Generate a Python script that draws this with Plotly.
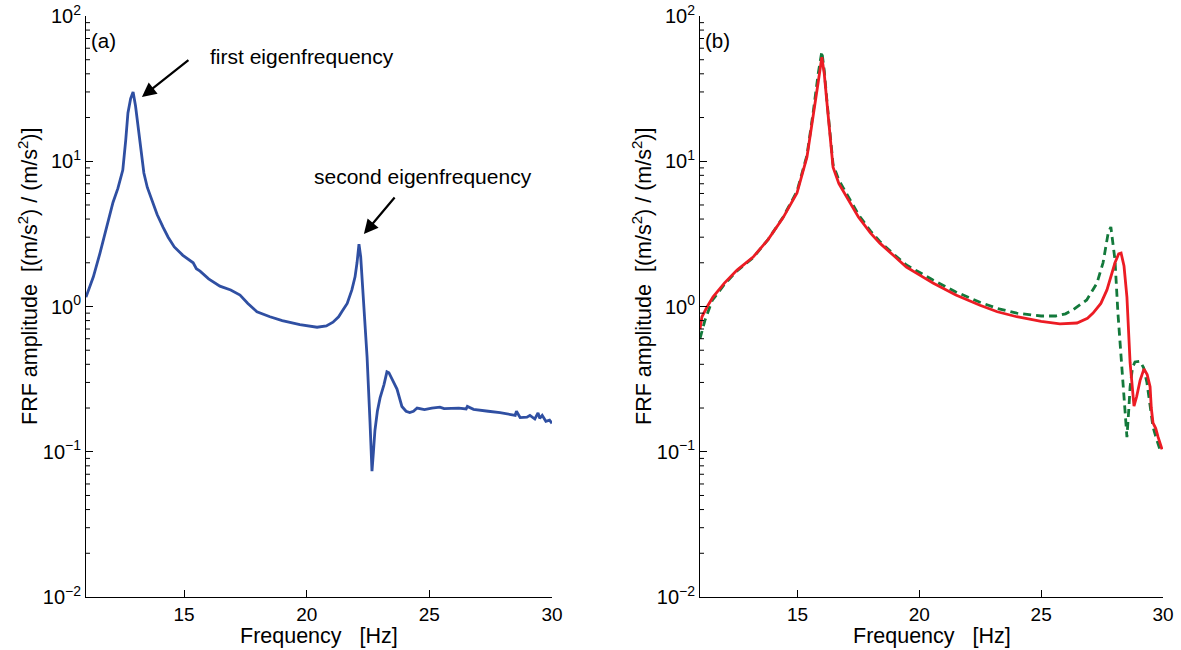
import plotly.graph_objects as go
import math

# Panel (a): measured FRF
freq_a = [11.0, 11.3, 11.57, 11.85, 12.1, 12.3, 12.5, 12.62, 12.71, 12.82, 12.92, 13.02, 13.12, 13.24, 13.36,
          13.5, 13.68, 13.9, 14.14, 14.35, 14.6, 14.95, 15.37, 15.5, 15.65, 16.0, 16.46, 16.9, 17.28, 17.6,
          17.97, 18.5, 19.0, 19.72, 20.42, 20.8, 21.07, 21.3, 21.43, 21.65, 21.84, 21.97, 22.05, 22.13, 22.2,
          22.3, 22.46, 22.58, 22.66, 22.72, 22.78, 22.88, 22.99, 23.15, 23.27, 23.35, 23.5, 23.68, 23.88, 24.05,
          24.2, 24.35, 24.5, 24.8, 25.1, 25.43, 25.6, 25.9, 26.2, 26.5, 26.55, 26.8, 27.1, 27.4, 27.88, 28.2,
          28.5, 28.55, 28.7, 28.98, 29.1, 29.3, 29.43, 29.5, 29.6, 29.75, 29.9, 30.0]
amp_a = [1.16, 1.6, 2.33, 3.5, 5.2, 6.5, 8.7, 14, 21.5, 27, 30, 24, 17.2, 11.5, 8.3,
         6.6, 5.4, 4.3, 3.52, 3.0, 2.57, 2.25, 2.0, 1.82, 1.75, 1.55, 1.38, 1.3, 1.2, 1.05,
         0.92, 0.85, 0.8, 0.75, 0.72, 0.735, 0.78, 0.85, 0.92, 1.05, 1.3, 1.6, 2.0, 2.69, 2.2,
         1.2, 0.45, 0.16, 0.0736, 0.1, 0.14, 0.19, 0.235, 0.29, 0.355, 0.35, 0.31, 0.27, 0.205, 0.19,
         0.186, 0.19, 0.2, 0.195, 0.2, 0.203, 0.198, 0.2, 0.2, 0.197, 0.205, 0.196, 0.194, 0.19, 0.186, 0.182,
         0.178, 0.19, 0.172, 0.173, 0.178, 0.168, 0.185, 0.17, 0.178, 0.162, 0.165, 0.157]

# Panel (b): red solid
freq_red = [11.0, 11.08, 11.3, 11.53, 12.0, 12.52, 13.18, 13.8, 14.4, 14.98, 15.39, 15.65, 15.85, 16.0, 16.1,
            16.2, 16.46, 16.7, 17.0, 17.5, 18.0, 18.38, 19.0, 19.47, 20.0, 20.56, 21.5, 22.49, 23.2, 24.0,
            25.0, 25.77, 26.47, 26.9, 27.13, 27.45, 27.7, 27.9, 28.03, 28.18, 28.28, 28.4, 28.52, 28.65, 28.75,
            28.81, 28.92, 29.06, 29.22, 29.35, 29.47, 29.52, 29.59, 29.7, 29.8, 29.96]
amp_red = [0.7, 0.85, 1.0, 1.16, 1.45, 1.78, 2.19, 2.9, 4.06, 6.04, 10.7, 20.2, 35, 52, 40,
           26.3, 9.1, 7.0, 5.7, 4.13, 3.2, 2.73, 2.2, 1.87, 1.65, 1.45, 1.2, 1.02, 0.92, 0.85,
           0.79, 0.76, 0.77, 0.83, 0.9, 1.05, 1.3, 1.65, 2.0, 2.3, 2.33, 1.9, 1.16, 0.41, 0.25,
           0.206, 0.24, 0.31, 0.372, 0.34, 0.28, 0.2, 0.158, 0.145, 0.126, 0.104]

# Panel (b): green dashed
freq_green = [11.0, 11.2, 11.5, 12.0, 12.52, 13.18, 13.8, 14.4, 14.98, 15.39, 15.65, 15.85, 16.0, 16.1, 16.2,
              16.46, 16.7, 17.0, 17.5, 18.0, 18.38, 19.0, 19.47, 20.0, 20.56, 21.5, 22.49, 23.2, 24.0, 25.0,
              25.6, 26.0, 26.3, 26.87, 27.29, 27.54, 27.75, 27.86, 28.03, 28.15, 28.32, 28.48, 28.52, 28.6,
              28.65, 28.75, 28.85, 29.06, 29.2, 29.34, 29.47, 29.59, 29.75, 29.92]
amp_green = [0.6, 0.8, 1.1, 1.42, 1.76, 2.17, 2.9, 4.1, 6.2, 11, 22, 40, 57, 42, 27,
             9.5, 7.4, 6.0, 4.3, 3.3, 2.8, 2.25, 1.93, 1.72, 1.52, 1.26, 1.07, 0.97, 0.9, 0.86,
             0.86, 0.89, 0.946, 1.11, 1.45, 2.0, 3.2, 3.53, 2.09, 0.9, 0.38, 0.173, 0.126, 0.2,
             0.28, 0.38, 0.415, 0.42, 0.38, 0.3, 0.2, 0.148, 0.12, 0.098]

x_ticks = [15, 20, 25, 30]
y_tickvals = [0.01, 0.1, 1, 10, 100]
y_ticktext = ["10<sup>−2</sup>", "10<sup>−1</sup>", "10<sup>0</sup>", "10<sup>1</sup>", "10<sup>2</sup>"]
y_minor = [m * d for d in [0.01, 0.1, 1, 10] for m in range(2, 10)]

FONT = "Liberation Sans, Arial, sans-serif"
BLUE = "#2f4fa2"
RED = "#ec1c24"
GREEN = "#13793b"

fig = go.Figure()
fig.add_trace(go.Scatter(x=freq_a, y=amp_a, mode="lines", line=dict(color=BLUE, width=2.8),
                         xaxis="x", yaxis="y", showlegend=False))
fig.add_trace(go.Scatter(x=freq_green, y=amp_green, mode="lines",
                         line=dict(color=GREEN, width=2.8, dash="8px,5px"),
                         xaxis="x2", yaxis="y2", showlegend=False))
fig.add_trace(go.Scatter(x=freq_red, y=amp_red, mode="lines", line=dict(color=RED, width=2.8),
                         xaxis="x2", yaxis="y2", showlegend=False))

W, H = 1181, 650
L1, R1 = 86, 552
L2, R2 = 700, 1163
TOP, BOT = 16, 597
ydom = [1 - BOT / H, 1 - TOP / H]

xcommon = dict(range=[11, 30], tickvals=x_ticks, ticks="inside", ticklen=7, tickcolor="black",
               showline=True, linecolor="black", linewidth=1, showgrid=False, zeroline=False,
               automargin=False, tickfont=dict(family=FONT, size=19, color="black"), mirror=False)
ycommon = dict(type="log", range=[-2, 2], tickvals=y_tickvals, ticktext=y_ticktext,
               ticks="inside", ticklen=7, tickcolor="black", automargin=False,
               showline=True, linecolor="black", linewidth=1, showgrid=False, zeroline=False,
               tickfont=dict(family=FONT, size=20, color="black"))

fig.update_layout(
    width=W, height=H,
    margin=dict(l=0, r=0, t=0, b=0),
    paper_bgcolor="white", plot_bgcolor="white",
    font=dict(family=FONT, color="black"),
    xaxis=dict(domain=[L1 / W, R1 / W], anchor="y", **xcommon),
    yaxis=dict(domain=ydom, anchor="x", **ycommon),
    xaxis2=dict(domain=[L2 / W, R2 / W], anchor="y2", **xcommon),
    yaxis2=dict(domain=ydom, anchor="x2", **ycommon),
)

# minor ticks on the log y axes (drawn as short shapes at data values)
for xr, yr, wpx in [("x domain", "y", R1 - L1), ("x2 domain", "y2", R2 - L2)]:
    for v in y_minor:
        fig.add_shape(type="line", xref=xr, yref=yr, x0=0, x1=4 / wpx, y0=v, y1=v,
                      line=dict(color="black", width=1), layer="above")

ann = []
# axis titles
for cx in [(L1 + R1) / 2, (L2 + R2) / 2]:
    ann.append(dict(text="Frequency   [Hz]", x=cx / W, y=1 - 636 / H, xref="paper", yref="paper",
                    showarrow=False, font=dict(size=21.5, family=FONT), xanchor="center", yanchor="middle"))
for cx in [28, 642]:
    ann.append(dict(text="FRF amplitude  [(m/s<sup>2</sup>) / (m/s<sup>2</sup>)]", x=cx / W, y=1 - 277 / H,
                    xref="paper", yref="paper", showarrow=False, textangle=-90,
                    font=dict(size=21.5, family=FONT), xanchor="center", yanchor="middle"))
# panel labels
ann.append(dict(text="(a)", x=11.12, y=math.log10(68), xref="x", yref="y", showarrow=False,
                xanchor="left", yanchor="middle", font=dict(size=20.5, family=FONT)))
ann.append(dict(text="(b)", x=11.12, y=math.log10(68), xref="x2", yref="y2", showarrow=False,
                xanchor="left", yanchor="middle", font=dict(size=20.5, family=FONT)))
# arrows
ann.append(dict(text="", x=13.28, y=math.log10(27.7), xref="x", yref="y", showarrow=True,
                ax=48, ay=-38, arrowhead=2, arrowsize=1.3, arrowwidth=2.2, arrowcolor="black"))
ann.append(dict(text="first eigenfrequency", x=15.97, y=math.log10(53), xref="x", yref="y",
                showarrow=False, xanchor="left", yanchor="middle", font=dict(size=21, family=FONT)))
ann.append(dict(text="", x=22.33, y=0.499, xref="x", yref="y", showarrow=True,
                ax=32, ay=-38, arrowhead=2, arrowsize=1.3, arrowwidth=2.2, arrowcolor="black"))
ann.append(dict(text="second eigenfrequency", x=24.74, y=0.898, xref="x", yref="y",
                showarrow=False, xanchor="center", yanchor="middle", font=dict(size=21, family=FONT)))
fig.update_layout(annotations=ann)

fig.write_html("out.html")
